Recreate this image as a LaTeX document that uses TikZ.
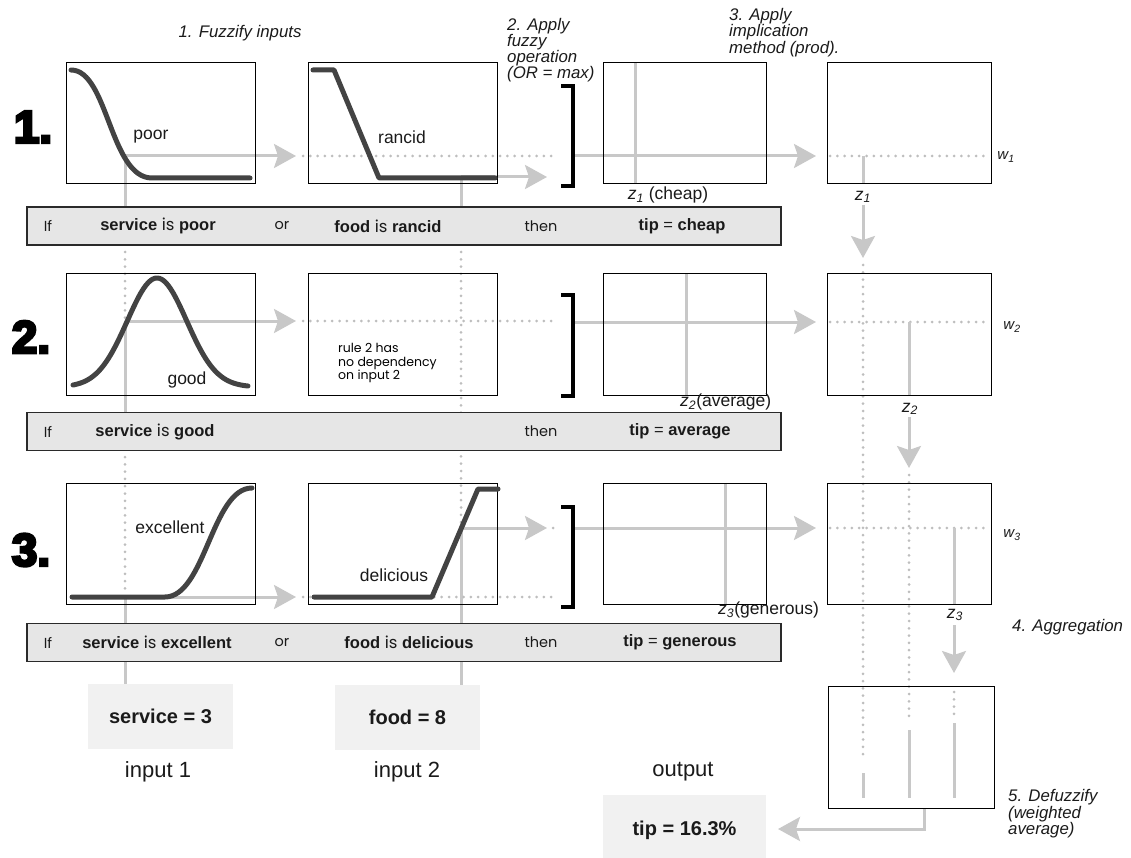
\documentclass[tikz,border=0pt]{standalone}
\usepackage{fontspec}
\setmainfont{Liberation Sans}
\newfontfamily\rulefont{Poppins}
\newfontfamily\heavyfont{Liberation Sans}[BoldFeatures={FakeBold=6}]
\usetikzlibrary{arrows.meta, backgrounds}
\definecolor{color_line}{HTML}{C8C8C8}
\definecolor{color_dots}{HTML}{BEBEBE}
\definecolor{color_curve}{HTML}{434343}
\definecolor{color_rule}{HTML}{E6E6E6}
\definecolor{color_value}{HTML}{F1F1F1}
\definecolor{color_edge}{HTML}{2A2A2A}
\definecolor{color_text}{HTML}{1A1A1A}
\newcommand{\rw}[1]{{\rulefont\mdseries #1}}
\newcommand{\sub}[2]{{\itshape #1\textsubscript{#2}}}
\tikzset{
  plot_box/.style={draw=black, line width=1pt, inner sep=0pt, minimum height=121pt},
  rule_box/.style={draw=color_edge, fill=color_rule, line width=1.8pt, inner sep=0pt, minimum width=754pt, minimum height=38pt},
  value_box/.style={fill=color_value, inner sep=0pt, minimum width=145pt, minimum height=65pt, text=color_text, font=\bfseries\fontsize{20}{22}\selectfont},
  gray_line/.style={draw=color_line, line width=3pt},
  gray_dots/.style={draw=color_dots, line width=3pt, line cap=round, dash pattern=on 0pt off 7.3pt},
  gray_arrow/.style={gray_line, -{Stealth[length=22pt, width=24pt, inset=4pt]}},
  mf_curve/.style={draw=color_curve, line width=5pt, line cap=round, line join=round},
  bracket_line/.style={draw=black, line width=4.5pt},
  step_note/.style={font=\itshape\fontsize{16.8}{16}\selectfont, align=left, inner sep=0pt, text=color_text},
  mf_label/.style={font=\fontsize{17.5}{18}\selectfont, inner sep=0pt, text=color_text},
  axis_label/.style={font=\fontsize{17.5}{18}\selectfont, inner sep=0pt, text=color_text},
  weight_label/.style={font=\fontsize{15}{16}\selectfont, inner sep=0pt, text=color_text},
  rule_word/.style={font=\rulefont\fontsize{14.5}{16}\selectfont, inner sep=0pt, text=color_text},
  rule_bold/.style={font=\bfseries\fontsize{16.5}{18}\selectfont, inner sep=0pt, text=color_text},
  row_num/.style={font=\heavyfont\bfseries\fontsize{46}{46}\selectfont, inner sep=0pt},
  io_label/.style={font=\fontsize{22}{24}\selectfont, inner sep=0pt, text=color_text},
}

\begin{document}
\begin{tikzpicture}[x=1pt, y=-1pt]
  \useasboundingbox (0,0) rectangle (1131,858);

  % plot boxes for the three rules
  \foreach \r/\y in {1/123.5, 2/334.5, 3/543.5} {
    \node[plot_box, minimum width=189pt] (A\r) at (160.5,\y) {};
    \node[plot_box, minimum width=189pt] (B\r) at (402.5,\y) {};
    \node[plot_box, minimum width=163pt] (C\r) at (684.5,\y) {};
    \node[plot_box, minimum width=164pt] (D\r) at (909,\y) {};
  }
  \node[plot_box, minimum width=166pt, minimum height=122pt] (E) at (911,747) {};

  % row numbers
  \node[row_num] (n1) at (33,127) {1.};
  \node[row_num] (n2) at (31,337) {2.};
  \node[row_num] (n3) at (31,550) {3.};

  % step notes
  \node[step_note] (st1) at (240,33) {1. Fuzzify inputs};
  \node[step_note, anchor=north west] (st2) at (507,18) {2. Apply\\fuzzy\\operation\\(OR = max)};
  \node[step_note, anchor=north west, font=\itshape\fontsize{16.8}{16.5}\selectfont] (st3) at (729,8) {3. Apply\\implication\\method (prod).};
  \node[step_note, anchor=west] (st4) at (1012,627) {4. Aggregation};
  \node[step_note, anchor=north west, font=\itshape\fontsize{16.8}{15}\selectfont] (st5) at (1008,789) {5. Defuzzify\\(weighted\\average)};

  % rule bars
  \node[rule_box] (R1) at (404,226) {};
  \node[rule_box] (R2) at (404,431.5) {};
  \node[rule_box] (R3) at (404,642.5) {};

  \node[rule_word] (R1if) at (48,226) {If};
  \node[rule_bold] (R1a) at (158,226) {service \rw{is} poor};
  \node[rule_word] (R1or) at (282,226) {or};
  \node[rule_bold] (R1b) at (388,226) {food \rw{is} rancid};
  \node[rule_word] (R1then) at (541,226) {then};
  \node[rule_bold] (R1c) at (682,226) {tip \mdseries=\bfseries{} cheap};

  \node[rule_word] (R2if) at (48,431.5) {If};
  \node[rule_bold] (R2a) at (155,431.5) {service \rw{is} good};
  \node[rule_word] (R2then) at (541,431.5) {then};
  \node[rule_bold] (R2c) at (680,431.5) {tip \mdseries=\bfseries{} average};

  \node[rule_word] (R3if) at (48,642.5) {If};
  \node[rule_bold] (R3a) at (157,642.5) {service \rw{is} excellent};
  \node[rule_word] (R3or) at (282,642.5) {or};
  \node[rule_bold] (R3b) at (409,642.5) {food \rw{is} delicious};
  \node[rule_word] (R3then) at (541,642.5) {then};
  \node[rule_bold] (R3c) at (680,642.5) {tip \mdseries=\bfseries{} generous};

  % inputs and output
  \node[value_box] (SV) at (160.5,716.5) {service = 3};
  \node[value_box] (FD) at (407.5,717.5) {food = 8};
  \node[value_box, minimum width=163pt, minimum height=70pt] (TP) at (684.5,830) {tip = 16.3\%};
  \node[io_label] (in1) at (158,772) {input 1};
  \node[io_label] (in2) at (407,772) {input 2};
  \node[io_label] (out) at (683,772) {output};

  % membership functions
  \draw[mf_curve] (71,70) .. controls (108,70) and (110,178) .. (152,178) -- (250,178);
  \draw[mf_curve] (313,70) -- (334,70) -- (379,178) -- (495,178);
  \draw[mf_curve] plot[domain=73:248, samples=80, smooth] (\x, {387-109*exp(-((\x-157)/42)^2)});
  \draw[mf_curve] (72,597) -- (165,597) .. controls (205,597) and (212,488) .. (252,488);
  \draw[mf_curve] (314,597) -- (432,597) -- (478,489) -- (498,489);
  \node[mf_label] (lpoor) at (151,137) {poor};
  \node[mf_label] (lrancid) at (402,137) {rancid};
  \node[mf_label] (lgood) at (187,380) {good};
  \node[mf_label] (lexc) at (170,527) {excellent};
  \node[mf_label] (ldel) at (394,575) {delicious};
  \node[font=\rulefont\fontsize{12.5}{13.5}\selectfont, align=left, anchor=west, inner sep=0pt] (nodep) at (338,363) {rule 2 has\\no dependency\\on input 2};

  % OR brackets
  \draw[bracket_line] (561,86) -- (573,86) -- (573,186) -- (561,186);
  \draw[bracket_line] (561,295) -- (573,295) -- (573,396) -- (561,396);
  \draw[bracket_line] (561,507) -- (573,507) -- (573,607) -- (561,607);

  % axis labels
  \node[axis_label] (z1c) at (668,195) {\sub{z}{1} (cheap)};
  \node[axis_label, anchor=west] (z2c) at (680,402) {\sub{z}{2}(average)};
  \node[axis_label, anchor=west] (z3c) at (718,610) {\sub{z}{3}(generous)};
  \node[axis_label] (z1) at (863,197) {\sub{z}{1}};
  \node[axis_label] (z2) at (910,409) {\sub{z}{2}};
  \node[axis_label] (z3) at (955,615) {\sub{z}{3}};
  \node[weight_label] (w1) at (1006,157) {\sub{w}{1}};
  \node[weight_label] (w2) at (1012,327) {\sub{w}{2}};
  \node[weight_label] (w3) at (1012,535) {\sub{w}{3}};

  \begin{pgfonlayer}{background}
    % input 1
    \draw[gray_line] (125,156) -- (125,230);
    \draw[gray_dots] (125,252) -- (125,318);
    \draw[gray_line] (125,321) -- (125,440);
    \draw[gray_dots] (125,457) -- (125,594);
    \draw[gray_line] (125,597) -- (SV.north -| 125,0);
    % input 2
    \draw[gray_line] (461,177) -- (461,230);
    \draw[gray_dots] (461,252) -- (461,525);
    \draw[gray_line] (461,528) -- (FD.north -| 461,0);
    % rule 1
    \draw[gray_arrow] (125,156) -- (296,156);
    \draw[gray_dots] (303,156) -- (557,156);
    \draw[gray_arrow] (461,177) -- (547,177);
    \draw[gray_arrow] (575,156) -- (816,156);
    \draw[gray_line] (C1.north -| 635,0) -- (C1.south -| 635,0);
    \draw[gray_dots] (830,156) -- (988,156);
    \draw[gray_line] (863,156) -- (D1.south -| 863,0);
    \draw[gray_arrow] (863,205) -- (863,258);
    \draw[gray_dots] (863,265) -- (863,757);
    \draw[gray_line] (863,773) -- (863,798);
    % rule 2
    \draw[gray_arrow] (125,321) -- (296,321);
    \draw[gray_dots] (303,321) -- (557,321);
    \draw[gray_arrow] (575,322) -- (816,322);
    \draw[gray_line] (C2.north -| 686,0) -- (C2.south -| 686,0);
    \draw[gray_dots] (830,322) -- (988,322);
    \draw[gray_line] (909,322) -- (D2.south -| 909,0);
    \draw[gray_arrow] (909,417) -- (909,468);
    \draw[gray_dots] (909,475) -- (909,717);
    \draw[gray_line] (909,730) -- (909,798);
    % rule 3
    \draw[gray_arrow] (125,597) -- (296,597);
    \draw[gray_dots] (303,597) -- (557,597);
    \draw[gray_arrow] (461,528) -- (547,528);
    \draw[gray_dots] (553,528) -- (558,528);
    \draw[gray_arrow] (575,528) -- (816,528);
    \draw[gray_line] (C3.north -| 725,0) -- (C3.south -| 725,0);
    \draw[gray_dots] (830,528) -- (988,528);
    \draw[gray_line] (954,528) -- (D3.south -| 954,0);
    \draw[gray_arrow] (954,625) -- (954,673);
    \draw[gray_dots] (954,692) -- (954,718);
    \draw[gray_line] (954,723) -- (954,798);
    % defuzzified output
    \draw[gray_arrow] (E.south -| 924,0) -- (924,829) -- (778,829);
  \end{pgfonlayer}
\end{tikzpicture}
\end{document}
